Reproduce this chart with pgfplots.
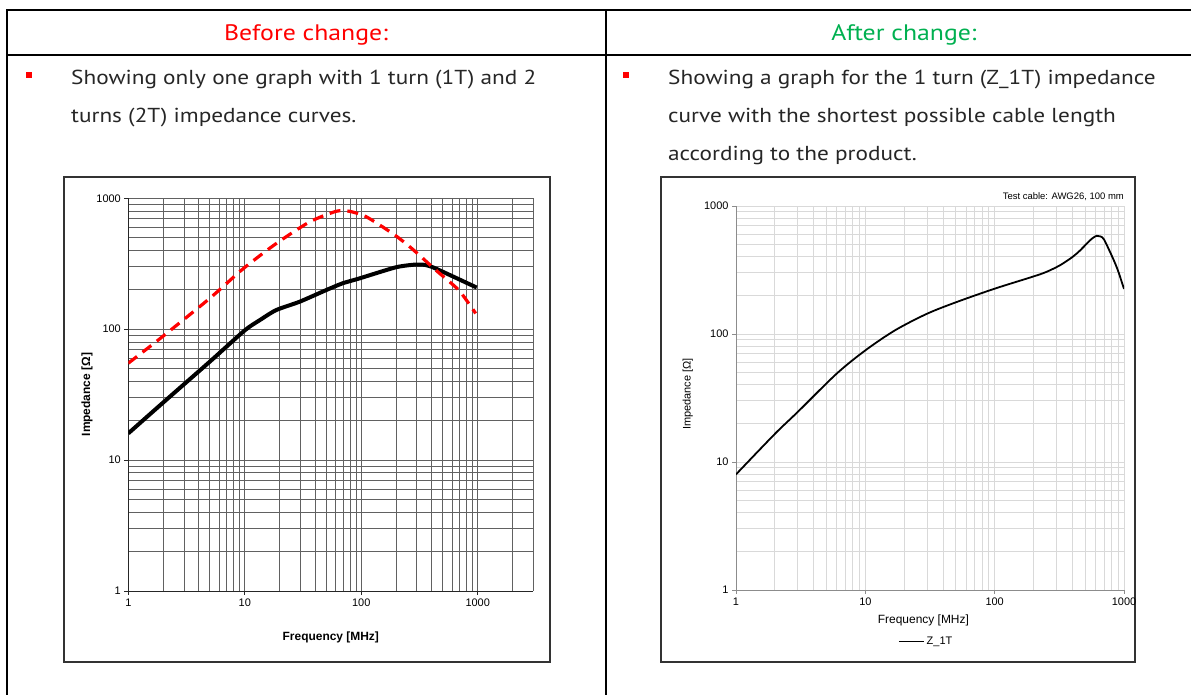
\documentclass[border=0pt]{standalone}
\usepackage{fontspec}
\setmainfont[FakeStretch=1.15]{PT Sans}
\newfontfamily\arial{Liberation Sans}
\usepackage{pgfplots}
\pgfplotsset{compat=1.18}
\definecolor{hdrred}{HTML}{FF0000}
\definecolor{hdrgreen}{HTML}{00B050}
\definecolor{txt}{HTML}{262626}
\definecolor{gridlight}{HTML}{D9D9D9}
\definecolor{axgray}{HTML}{8C8C8C}
\newcommand{\body}{\color{txt}\fontsize{20.3}{22}\selectfont}

\begin{document}
\begin{tikzpicture}
\path[use as bounding box] (0,0) rectangle (1191bp,695bp);
\begin{scope}[x=1bp,y=-1bp,yshift=695bp]
  % table rules
  \draw[line width=1.8bp] (7,695) -- (7,10) -- (1191,10);
  \draw[line width=1.8bp] (7,55) -- (1191,55);
  \draw[line width=1.8bp] (606,10) -- (606,695);
  % headers
  \node[anchor=base, text=hdrred, font=\fontsize{22.5}{24}\selectfont, inner sep=0pt] at (306,41) {Before change:};
  \node[anchor=base, text=hdrgreen, font=\fontsize{22.5}{24}\selectfont, inner sep=0pt] at (904,41) {After change:};
  % bullets
  \fill[hdrred] (26,72) rectangle (32,78);
  \fill[hdrred] (623,72) rectangle (629,78);
  % body text
  \node[anchor=base west, font=\body, inner sep=0pt] at (71,85) {Showing only one graph with 1 turn (1T) and 2};
  \node[anchor=base west, font=\body, inner sep=0pt] at (71,123) {turns (2T) impedance curves.};
  \node[anchor=base west, font=\body, inner sep=0pt] at (668,85) {Showing a graph for the 1 turn (Z\_1T) impedance};
  \node[anchor=base west, font=\body, inner sep=0pt] at (668,123) {curve with the shortest possible cable length};
  \node[anchor=base west, font=\body, inner sep=0pt] at (668,161) {according to the product.};
  % chart frames
  \draw[line width=1.5bp, black!80] (64,177) rectangle (550,662);
  \draw[line width=1.5bp, black!80] (661,177) rectangle (1135,662);
\end{scope}

% ---------- Left chart ----------
\begin{axis}[
  at={(128.3bp,104bp)}, anchor=south west, scale only axis,
  width=405bp, height=392.7bp,
  xmode=log, ymode=log, xmin=1, xmax=3000, ymin=1, ymax=1000,
  axis lines=left, axis line style={-, black!85, line width=0.8bp},
  xtick={1,10,100,1000}, xticklabels={1,10,100,1000},
  ytick={1,10,100,1000}, yticklabels={1,10,100,1000},
  minor xtick={2,3,4,5,6,7,8,9,20,30,40,50,60,70,80,90,200,300,400,500,600,700,800,900,2000,3000},
  minor ytick={2,3,4,5,6,7,8,9,20,30,40,50,60,70,80,90,200,300,400,500,600,700,800,900},
  tick align=outside, major tick length=4bp, minor tick length=0pt,
  tick style={black!85, line width=0.7bp},
  grid=both,
  major grid style={black!62, line width=0.7bp},
  minor grid style={black!62, line width=0.7bp},
  ticklabel style={font=\arial\fontsize{11}{12}\selectfont},
  xlabel={Frequency [MHz]}, ylabel={Impedance [Ω]},
  label style={font=\arial\bfseries\fontsize{12}{13}\selectfont},
  xlabel style={at={(axis description cs:0.5,-0.117)}, anchor=center},
  ylabel style={at={(axis description cs:-0.102,0.5)}, anchor=center, rotate=0},
  clip mode=individual,
]
\addplot[black, line width=4bp, smooth, tension=0.4] coordinates {
 (1,16) (1.88,26.3) (5,56.4) (10,98) (13.4,117) (18.6,140) (29.5,162) (50,199) (69,224) (96,244) (198,297) (295,312) (357,309) (435,291) (980,208)
};
\addplot[red, line width=3.2bp, dash pattern=on 11bp off 7bp, smooth, tension=0.4] coordinates {
 (1,55) (1.88,85) (5,172) (9.7,290) (18.6,451) (36,660) (61,796) (79,796) (110,724) (185,540) (240,453) (294,389) (436,283) (690,198) (960,132)
};
\end{axis}

% ---------- Right chart ----------
\begin{axis}[
  at={(736bp,105bp)}, anchor=south west, scale only axis,
  width=388bp, height=384bp,
  xmode=log, ymode=log, xmin=1, xmax=1000, ymin=1, ymax=1000,
  axis lines=left, axis line style={-, axgray, line width=0.8bp},
  xtick={1,10,100,1000}, xticklabels={1,10,100,1000},
  ytick={1,10,100,1000}, yticklabels={1,10,100,1000},
  minor xtick={2,3,4,5,6,7,8,9,20,30,40,50,60,70,80,90,200,300,400,500,600,700,800,900},
  minor ytick={2,3,4,5,6,7,8,9,20,30,40,50,60,70,80,90,200,300,400,500,600,700,800,900},
  tick align=outside, major tick length=4bp, minor tick length=0pt,
  tick style={axgray, line width=0.7bp},
  grid=both,
  major grid style={gridlight, line width=0.9bp},
  minor grid style={gridlight, line width=0.9bp},
  ticklabel style={font=\arial\fontsize{11}{12}\selectfont},
  xlabel={Frequency [MHz]}, ylabel={Impedance [Ω]},
  xlabel style={font=\arial\fontsize{12}{13}\selectfont, at={(axis description cs:0.483,-0.078)}, anchor=center},
  ylabel style={font=\arial\fontsize{11}{12}\selectfont, at={(axis description cs:-0.124,0.51)}, anchor=center, rotate=0},
  clip mode=individual,
  legend style={at={(axis description cs:0.49,-0.134)}, anchor=center, draw=none, fill=none,
    font=\arial\fontsize{11}{12}\selectfont, inner sep=0pt},
  legend image code/.code={\draw[#1] (0bp,0bp) -- (25bp,0bp);},
]
\addplot[black, line width=1.8bp, smooth, tension=0.5] coordinates {
 (1,8.0) (2,16.6) (3,24.6) (6,49) (10,74.5) (17,107) (30,144) (51,178) (100,226) (194,279) (250,305) (321,345) (400,400) (458,450) (512,505) (570,560) (616,585) (660,578) (700,548) (778,440) (850,360) (906,305) (1000,225)
};
\addlegendentry{Z\_1T}
\node[anchor=east, font=\arial\fontsize{9.5}{10}\selectfont, inner sep=0pt] at (axis description cs:1,1.023) {Test cable: AWG26, 100 mm};
\end{axis}
\end{tikzpicture}
\end{document}
